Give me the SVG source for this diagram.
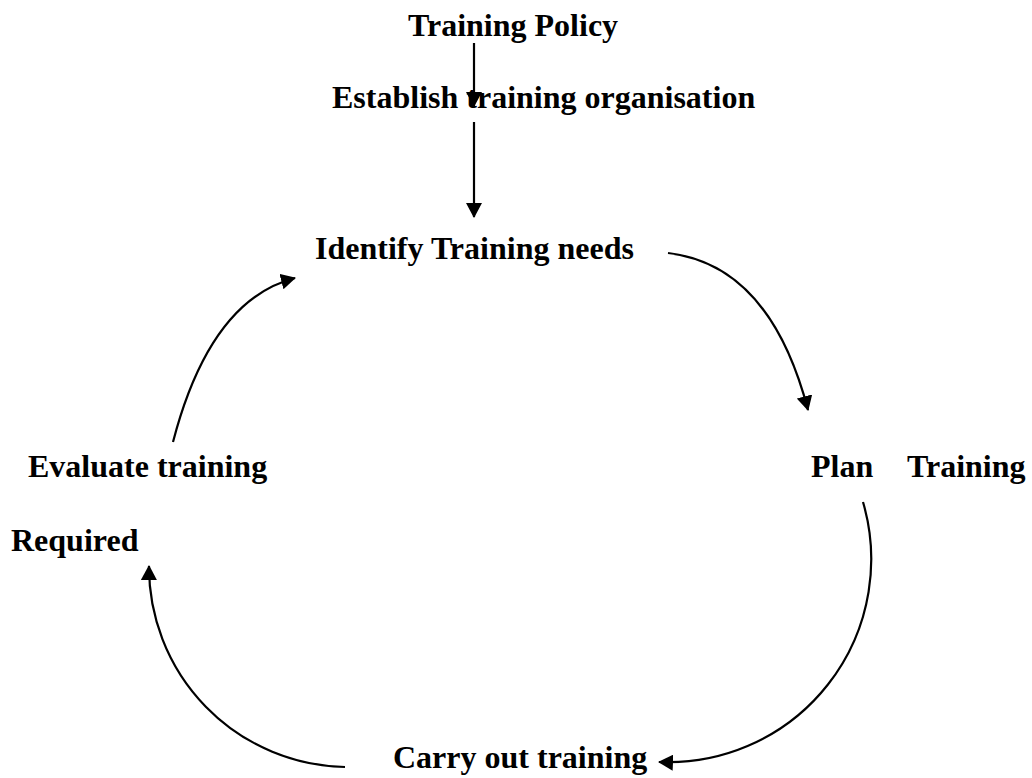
<svg xmlns="http://www.w3.org/2000/svg" width="1032" height="778" viewBox="0 0 1032 778">
<style>
.lbl{font-family:"Liberation Serif","Times New Roman",serif;font-weight:bold;font-size:32px;fill:#000}
.con{fill:none;stroke:#000;stroke-width:2.2}
</style>
<defs>
<marker id="ah" viewBox="0 0 15 16" refX="14" refY="8" markerWidth="15" markerHeight="16" markerUnits="userSpaceOnUse" orient="auto">
<path d="M0,0 L15,8 L0,16 Z" fill="#000"/>
</marker>
</defs>
<rect width="1032" height="778" fill="#fff"/>
<g id="connectors">
<path class="con" d="M474,43 L474,106" marker-end="url(#ah)"/>
<path class="con" d="M474,122 L474,217" marker-end="url(#ah)"/>
<path class="con" d="M668,253 Q770,265 808,410" marker-end="url(#ah)"/>
<path class="con" d="M863,502 A203,203 0 0 1 659,762" marker-end="url(#ah)"/>
<path class="con" d="M345,767 A200,200 0 0 1 149,566" marker-end="url(#ah)"/>
<path class="con" d="M173,442 Q210,300 295,278" marker-end="url(#ah)"/>
</g>
<g id="policy"><text class="lbl" x="408" y="36">Training Policy</text></g>
<g id="establish"><text class="lbl" x="332" y="108">Establish training organisation</text></g>
<g id="identify"><text class="lbl" x="315" y="259">Identify Training needs</text></g>
<g id="plan"><text class="lbl" y="477"><tspan x="811">Plan</tspan><tspan x="907">Training</tspan></text></g>
<g id="carry"><text class="lbl" x="393" y="768">Carry out training</text></g>
<g id="evaluate"><text class="lbl" x="28" y="477">Evaluate training</text><text class="lbl" x="11" y="551">Required</text></g>
</svg>
